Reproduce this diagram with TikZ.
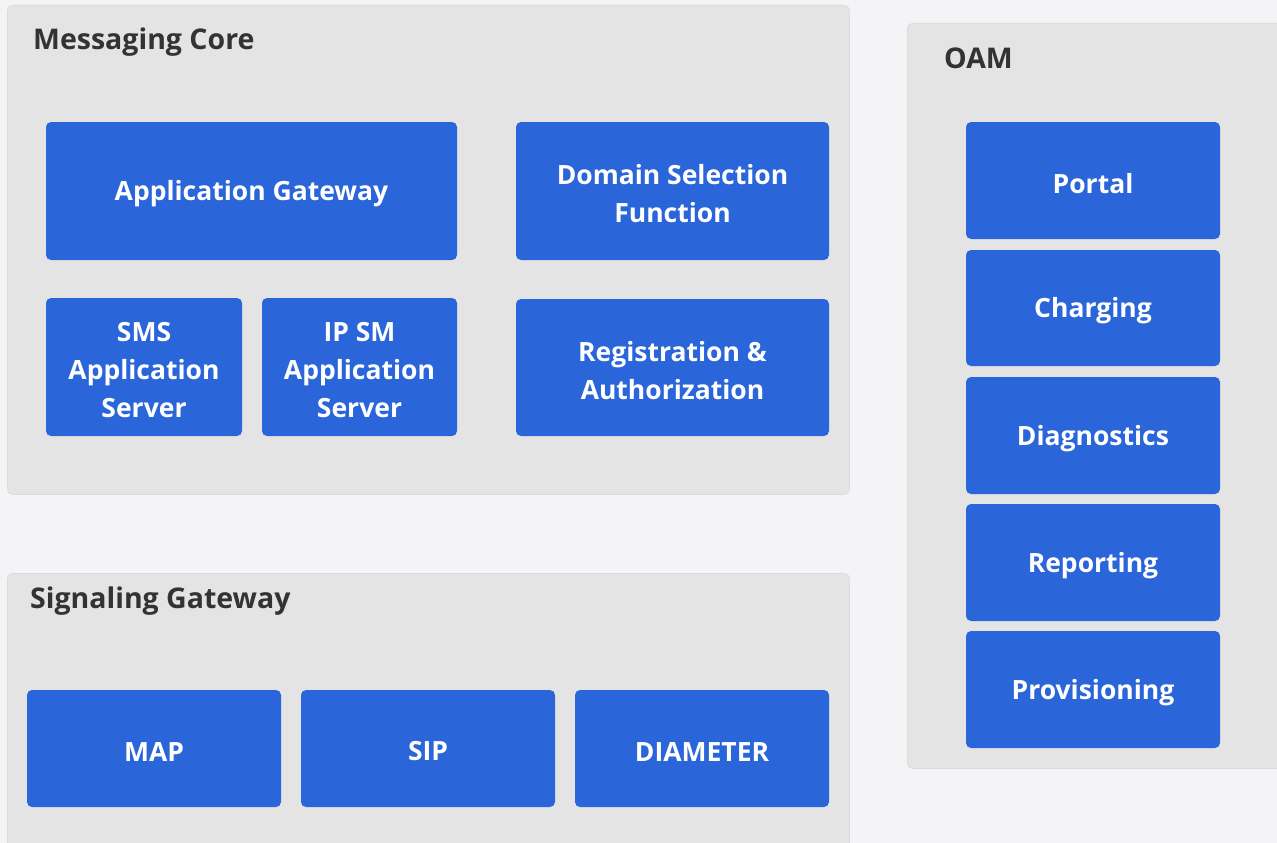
\documentclass[tikz,border=0pt]{standalone}
\usepackage{fontspec}
\setmainfont{Open Sans}
\definecolor{pagebg}{HTML}{F4F4F6}
\definecolor{panelbg}{HTML}{E4E4E4}
\definecolor{panelline}{HTML}{DCDCDC}
\definecolor{blockblue}{HTML}{2A65D9}
\definecolor{titlegray}{HTML}{333333}
\tikzset{
  panel/.style={draw=panelline, line width=0.8pt, fill=panelbg, rounded corners=5pt, anchor=north west, inner sep=0pt},
  paneltitle/.style={anchor=base west, inner sep=0pt, text=titlegray, font=\fontsize{28.5}{34}\selectfont\bfseries},
  block/.style={fill=blockblue, rounded corners=5pt, inner sep=0pt},
  blocktext/.style={inner sep=0pt, text=white, align=center, yshift=-3pt,
    font=\fontsize{26.5}{38}\selectfont\bfseries},
}
\newcommand{\blockat}[6]{% name, x1, y1, x2, y2, text
  \node[block, minimum width={#4-#2}, minimum height={#5-#3},
    label={[blocktext]center:#6}] (#1) at ({(#2+#4)/2},{(#3+#5)/2}) {};}
\begin{document}
\begin{tikzpicture}[x=1pt, y=-1pt]
  \fill[pagebg] (0,0) rectangle (1277,843);
  \useasboundingbox (0,0) rectangle (1277,843);

  % panels
  \node[panel, minimum width=842pt, minimum height=489pt] (core) at (7,5) {};
  \node[panel, minimum width=842pt, minimum height=290pt] (sig) at (7,573) {};
  \node[panel, minimum width=390pt, minimum height=745pt] (oam) at (907,23) {};

  \node[paneltitle] (coretitle) at (33,49) {Messaging Core};
  \node[paneltitle] (sigtitle) at (30,608) {Signaling Gateway};
  \node[paneltitle] (oamtitle) at (944,68) {OAM};

  % messaging core blocks
  \blockat{appgw}{46}{122}{457}{260}{Application Gateway}
  \blockat{dsf}{516}{122}{829}{260}{Domain Selection\\Function}
  \blockat{smsas}{46}{298}{242}{436}{SMS\\Application\\Server}
  \blockat{ipsmas}{262}{298}{457}{436}{IP SM\\Application\\Server}
  \blockat{regauth}{516}{299}{829}{436}{Registration \&\\Authorization}

  % signaling gateway blocks
  \blockat{map}{27}{690}{281}{807}{MAP}
  \blockat{sip}{301}{690}{555}{807}{SIP}
  \blockat{diameter}{575}{690}{829}{807}{DIAMETER}

  % OAM blocks
  \blockat{portal}{966}{122}{1220}{239}{Portal}
  \blockat{charging}{966}{250}{1220}{366}{Charging}
  \blockat{diag}{966}{377}{1220}{494}{Diagnostics}
  \blockat{report}{966}{504}{1220}{621}{Reporting}
  \blockat{prov}{966}{631}{1220}{748}{Provisioning}
\end{tikzpicture}
\end{document}
